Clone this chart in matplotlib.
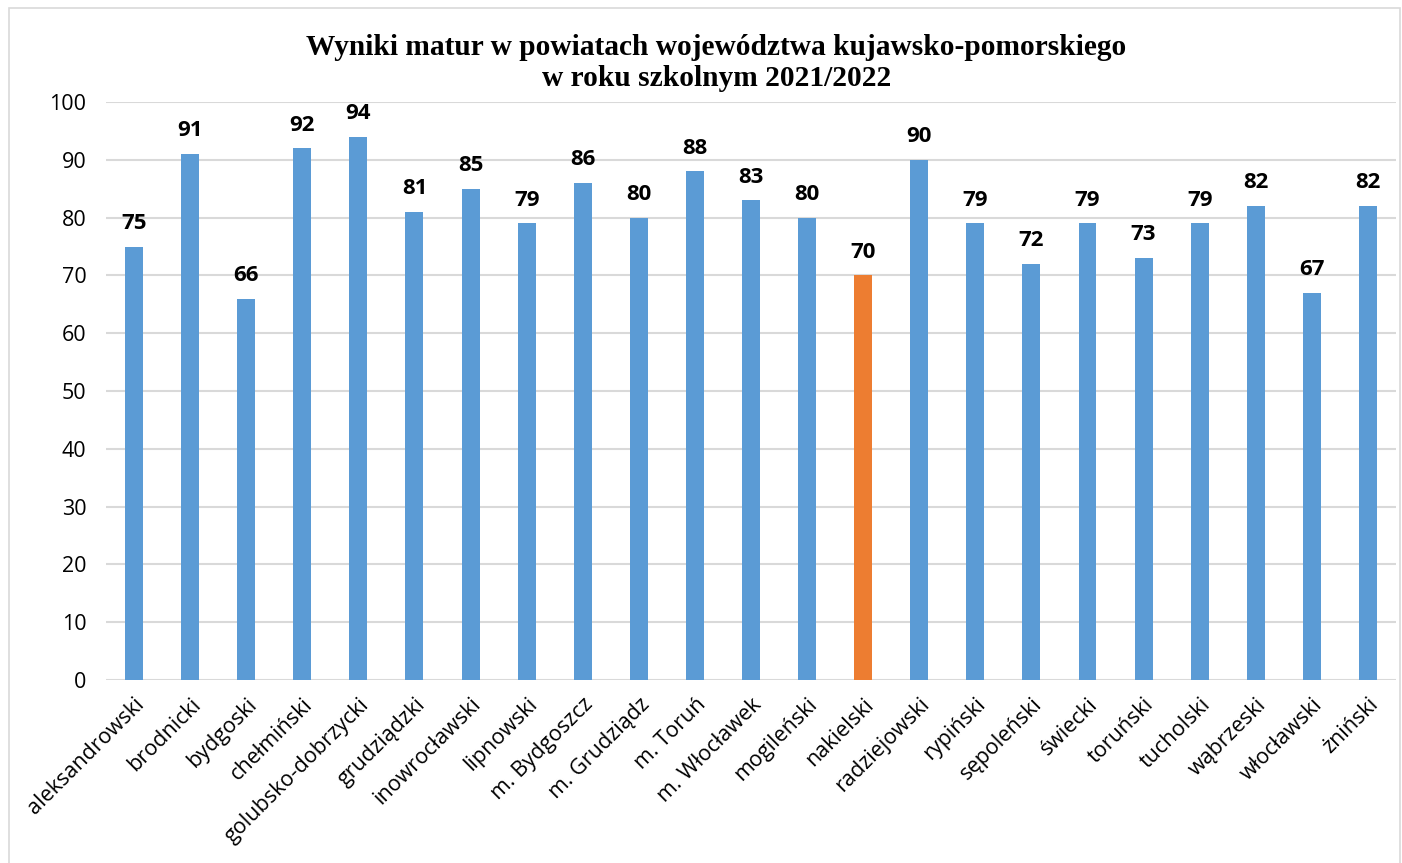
import matplotlib.pyplot as plt
from matplotlib.patches import Rectangle

# Dane
powiaty = ['aleksandrowski', 'brodnicki', 'bydgoski', 'chełmiński', 'golubsko-dobrzycki',
           'grudziądzki', 'inowrocławski', 'lipnowski', 'm. Bydgoszcz', 'm. Grudziądz',
           'm. Toruń', 'm. Włocławek', 'mogileński', 'nakielski', 'radziejowski',
           'rypiński', 'sępoleński', 'świecki', 'toruński', 'tucholski',
           'wąbrzeski', 'włocławski', 'żniński']
wyniki = [75, 91, 66, 92, 94, 81, 85, 79, 86, 80, 88, 83, 80, 70, 90,
          79, 72, 79, 73, 79, 82, 67, 82]
wyrozniony = 'nakielski'

kolory = ['#ED7D31' if p == wyrozniony else '#5B9BD5' for p in powiaty]

plt.rcParams['font.family'] = ['Open Sans', 'DejaVu Sans']

fig = plt.figure(figsize=(14.02, 8.63), dpi=100)
ax = fig.add_axes([0.0756, 0.212, 0.9201, 0.6698])

x = range(len(powiaty))
ax.bar(x, wyniki, width=0.32, color=kolory, zorder=3)
for xi, v in zip(x, wyniki):
    ax.text(xi, v + 2.2, str(v), ha='center', va='bottom', fontsize=16,
            fontweight='bold', zorder=4)

ax.set_xlim(-0.5, len(powiaty) - 0.5)
ax.set_ylim(0, 100)
ax.set_yticks(range(0, 101, 10))
ax.set_xticks(list(x))
ax.set_xticklabels(powiaty, rotation=45, ha='right', rotation_mode='anchor', fontsize=15.5)
ax.tick_params(axis='y', labelsize=15.5, length=0, pad=14)
ax.tick_params(axis='x', length=0, pad=10)
ax.grid(axis='y', color='#d9d9d9', linewidth=1.5, zorder=0)
for s in ax.spines.values():
    s.set_visible(False)

fig.text(0.511, 0.927, 'Wyniki matur w powiatach województwa kujawsko-pomorskiego\nw roku szkolnym 2021/2022',
         ha='center', va='center', fontsize=21.2, fontweight='bold',
         family='Liberation Serif', linespacing=1.2)

fig.patches.append(Rectangle((8.5 / 1402, -0.05), 1391 / 1402, 1.05 - 8.5 / 863,
                             transform=fig.transFigure, fill=False,
                             edgecolor='#d9d9d9', linewidth=1.2))

fig.savefig('out.png', dpi=100)
